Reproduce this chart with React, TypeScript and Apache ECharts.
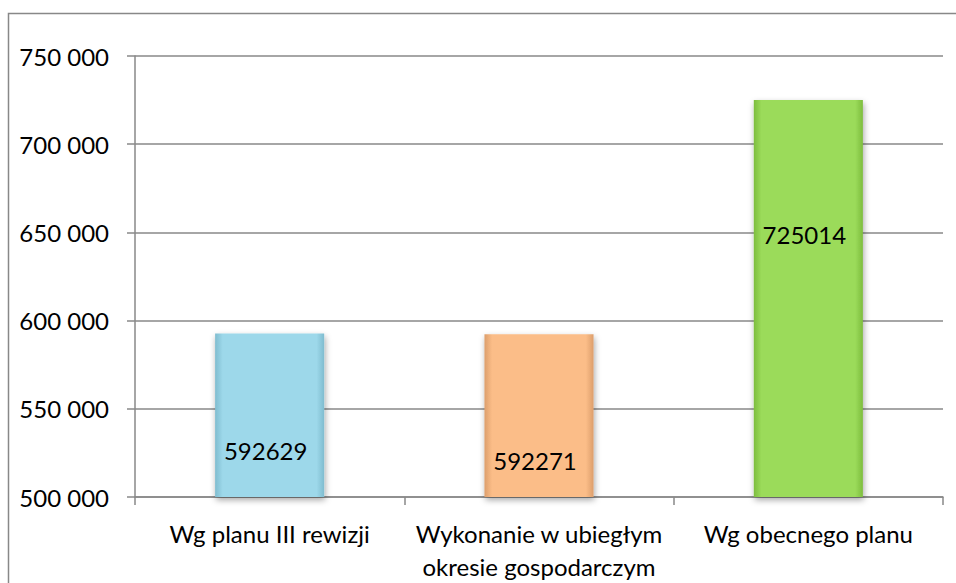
import React, { useEffect, useRef } from "react";
import * as echarts from "echarts";

const categories = [
  "Wg planu III rewizji",
  "Wykonanie w ubiegłym\nokresie gospodarczym",
  "Wg obecnego planu",
];
const values = [592629, 592271, 725014];
const barColors = ["#9dd8ea", "#fbbd88", "#9bdb5a"];
const barEdgeColors = ["#7fbccf", "#dc9e6b", "#7dbd3e"];
const barTopColors = ["#c3e9f4", "#fdd7b3", "#c4ee96"];
const labelOffsets = [35, 45, -64];
const yMin = 500000;
const yMax = 750000;
const yStep = 50000;

const FONT = "Lato";
const LINE = "#888888";

function fmt(v: number): string {
  return String(v).replace(/\B(?=(\d{3})+(?!\d))/g, " ");
}

export default function App() {
  const ref = useRef<HTMLDivElement>(null);
  useEffect(() => {
    if (!ref.current) return;
    const chart = echarts.init(ref.current, null, { renderer: "svg" });
    const data = values.map((v, i) => ({
      value: v,
      itemStyle: {
        color: new echarts.graphic.LinearGradient(0, 0, 1, 0, [
          { offset: 0, color: barEdgeColors[i] },
          { offset: 0.07, color: barColors[i] },
          { offset: 0.93, color: barColors[i] },
          { offset: 1, color: barEdgeColors[i] },
        ]),
        borderColor: barTopColors[i],
        borderWidth: 0,
        shadowColor: "rgba(0,0,0,0.35)",
        shadowBlur: 6,
        shadowOffsetX: 1,
        shadowOffsetY: 3,
      },
      label: { offset: [-4, labelOffsets[i]] },
    }));
    chart.setOption({
      animation: false,
      backgroundColor: "#ffffff",
      graphic: [
        {
          type: "rect",
          shape: { x: 8.5, y: 13.5, width: 1200, height: 1200 },
          style: { fill: "none", stroke: LINE, lineWidth: 1.5 },
          silent: true,
          z: -1,
        },
      ],
      grid: { left: 135, right: 13, top: 56, bottom: 80, containLabel: false },
      xAxis: {
        type: "category",
        data: categories,
        axisLine: { show: true, lineStyle: { color: LINE, width: 1.5 } },
        axisTick: { show: true, length: 8, lineStyle: { color: LINE, width: 1.5 } },
        axisLabel: {
          color: "#000",
          fontFamily: FONT,
          fontSize: 24,
          lineHeight: 33,
          margin: 20,
          interval: 0,
        },
      },
      yAxis: {
        type: "value",
        min: yMin,
        max: yMax,
        interval: yStep,
        axisLine: { show: true, lineStyle: { color: LINE, width: 1.5 } },
        axisTick: { show: true, length: 8, lineStyle: { color: LINE, width: 1.5 } },
        splitLine: { show: true, lineStyle: { color: LINE, width: 1.5 } },
        axisLabel: {
          color: "#000",
          fontFamily: FONT,
          fontSize: 24,
          margin: 26,
          formatter: (v: number) => fmt(v),
        },
      },
      series: [
        {
          type: "bar",
          data,
          barWidth: "40.5%",
          label: {
            show: true,
            position: "inside",
            color: "#000",
            fontFamily: FONT,
            fontSize: 24,
          },
        },
      ],
    });
    return () => chart.dispose();
  }, []);
  return (
    <div
      ref={ref}
      style={{ position: "absolute", left: 0, top: 0, width: 956, height: 583 }}
    />
  );
}
